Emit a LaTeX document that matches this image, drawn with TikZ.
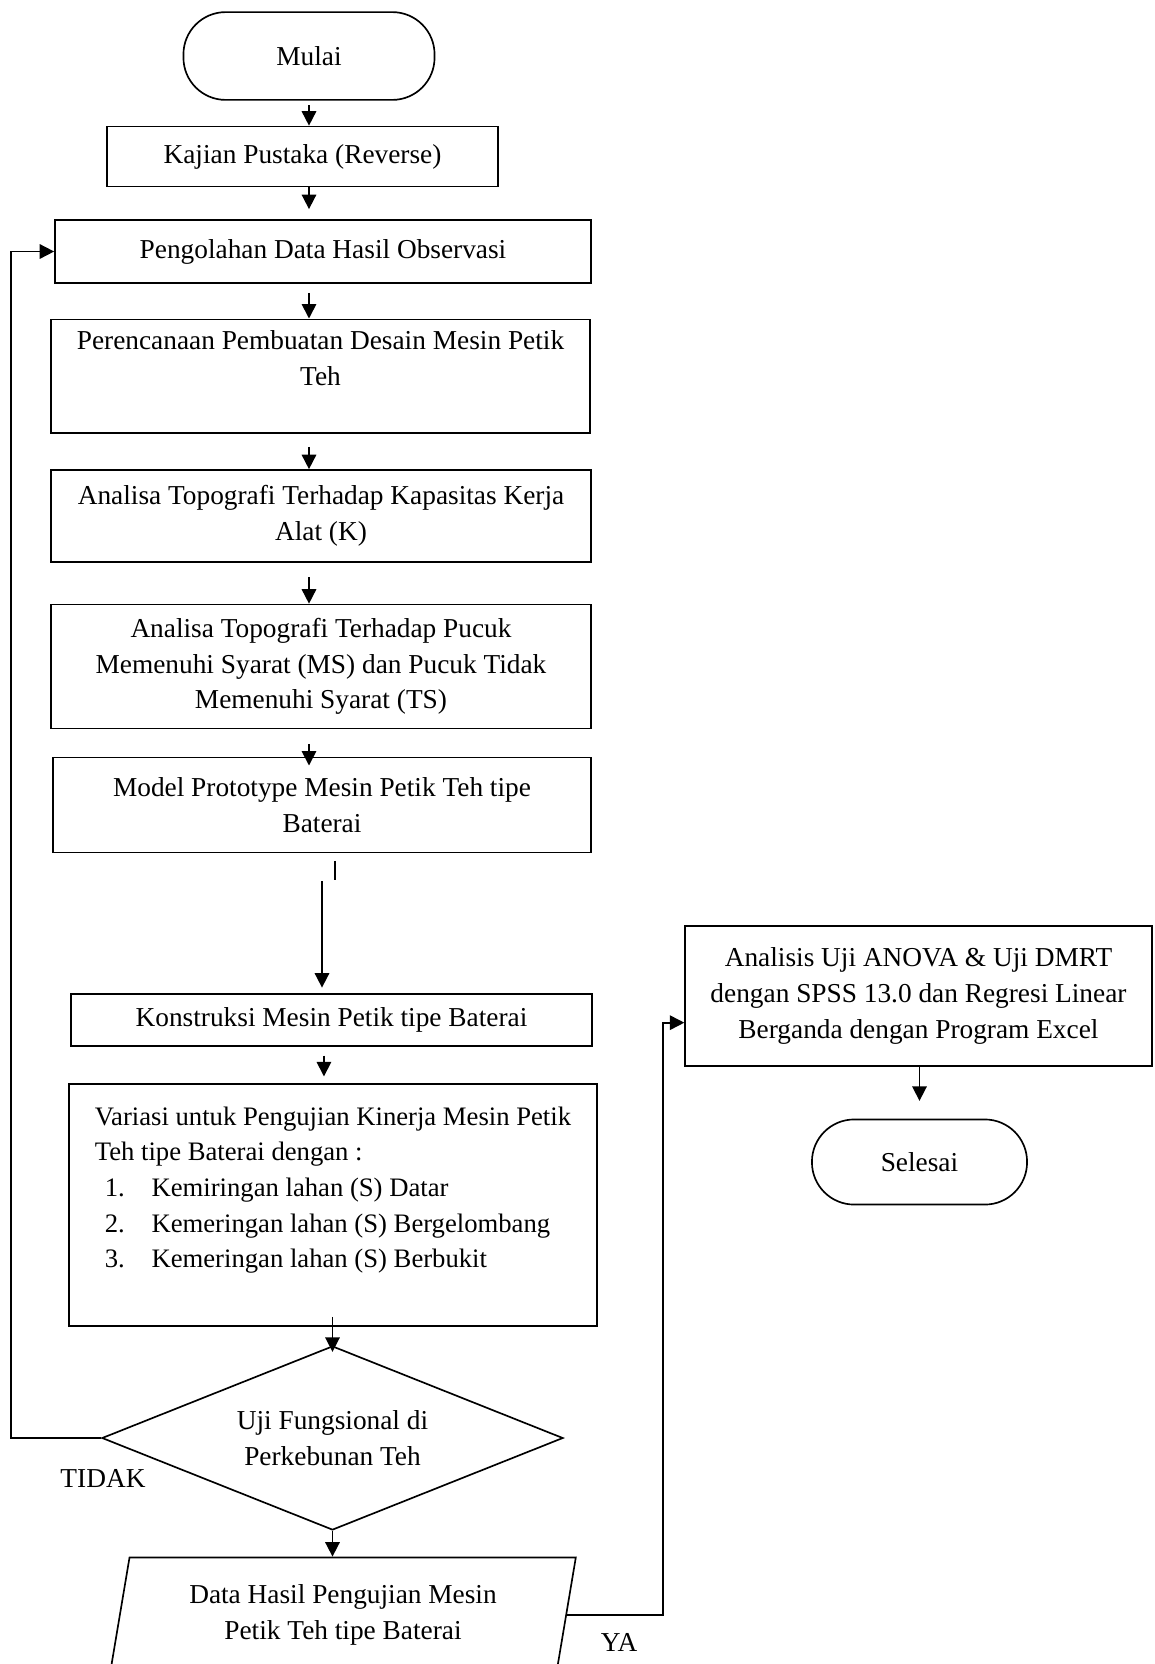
\documentclass[tikz,border=0pt]{standalone}
\usepackage{fontspec}
\setmainfont{Liberation Serif}
\usepackage{tikz}
\usetikzlibrary{arrows.meta,positioning,calc,shapes.geometric}
\newcommand{\butir}[1]{\hspace*{4.5pt}\makebox[21pt][l]{#1}}

\begin{document}
\begin{tikzpicture}[x=0.45pt,y=-0.45pt, box/.style={draw,line width=0.75pt,align=center,inner sep=0pt,font=\fontsize{12.3}{16}\selectfont}, ujung/.style={box,rounded corners=19pt}, pilih/.style={box,diamond,aspect=2.5}, masukan/.style={box,trapezium,trapezium left angle=77,trapezium right angle=103,trapezium stretches=true}, panah/.style={line width=0.75pt,-{Triangle[width=6.5pt,length=6.5pt]}}, label/.style={font=\fontsize{12.3}{16}\selectfont,inner sep=0pt}]
\useasboundingbox (0,0) rectangle (1154,1664);
\clip (0,0) rectangle (1154,1664);
\node[ujung,minimum width=113pt,minimum height=39.5pt] (mulai) at (309,56) {Mulai};
\node[box,minimum width=176pt,minimum height=27pt] (kajian) at (302.5,156.5) {Kajian Pustaka (Reverse)};
\node[box,minimum width=241.2pt,minimum height=28.4pt] (olah) at (323,251.5) {Pengolahan Data Hasil Observasi};
\node[box,minimum width=242.5pt,minimum height=51pt] (rencana) at (320.5,376) {Perencanaan Pembuatan Desain Mesin Petik\\Teh\\\mbox{}};
\node[box,minimum width=243pt,minimum height=41.4pt] (kapasitas) at (321,516) {Analisa Topografi Terhadap Kapasitas Kerja\\Alat (K)};
\node[box,minimum width=243pt,minimum height=55.8pt] (pucuk) at (321,666.5) {Analisa Topografi Terhadap Pucuk\\Memenuhi Syarat (MS) dan Pucuk Tidak\\Memenuhi Syarat (TS)};
\node[box,minimum width=242pt,minimum height=42.8pt] (model) at (322,805) {Model Prototype Mesin Petik Teh tipe\\Baterai};
\node[box,minimum width=234.5pt,minimum height=23.4pt] (konstruksi) at (331.5,1020) {Konstruksi Mesin Petik tipe Baterai};
\node[box,align=left,font=\fontsize{12}{16}\selectfont,minimum width=237.6pt,minimum height=109pt] (variasi) at (333,1205) {Variasi untuk Pengujian Kinerja Mesin Petik\\Teh tipe Baterai dengan :\\\butir{1.}Kemiringan lahan (S) Datar\\\butir{2.}Kemeringan lahan (S) Bergelombang\\\butir{3.}Kemeringan lahan (S) Berbukit\\\mbox{}};
\node[pilih,minimum width=207.5pt,minimum height=82.8pt] (uji) at (332.5,1438) {Uji Fungsional di\\Perkebunan Teh};
\node[masukan,minimum width=209.7pt,minimum height=51.8pt] (hasil) at (343,1615) {Data Hasil Pengujian Mesin\\Petik Teh tipe Baterai};
\node[box,minimum width=210pt,minimum height=63pt] (analisis) at (918.5,996) {Analisis Uji ANOVA \& Uji DMRT\\dengan SPSS 13.0 dan Regresi Linear\\Berganda dengan Program Excel};
\node[ujung,minimum width=96.8pt,minimum height=38.3pt] (selesai) at (919.5,1162) {Selesai};
\node[label] (tidak) at (103,1478) {TIDAK};
\node[label] (ya) at (619,1642) {YA};
\draw[panah,shorten <=2pt] (mulai.south) -- (mulai.south |- kajian.north);
\draw[panah,shorten >=4.5pt] (kajian.south -| mulai) -- (olah.north -| mulai);
\draw[panah,shorten <=4pt] (olah.south -| mulai) -- (rencana.north -| mulai);
\draw[panah,shorten <=6pt] (rencana.south -| mulai) -- (kapasitas.north -| mulai);
\draw[panah,shorten <=6.5pt] (kapasitas.south -| mulai) -- (pucuk.north -| mulai);
\draw[panah,shorten <=6.5pt,shorten >=-4pt] (pucuk.south -| mulai) -- (model.north -| mulai);
\draw[line width=0.75pt] ([xshift=5.8pt,yshift=-3.4pt]model.south) -- ++(0,19);
\draw[panah,shorten <=12.6pt,shorten >=2.5pt] (model.south) -- (model.south |- konstruksi.north);
\draw[panah,shorten <=4pt,shorten >=3pt] ([xshift=-3.4pt]konstruksi.south) -- ([xshift=-3.4pt]konstruksi.south |- variasi.north);
\draw[panah,shorten <=-4.5pt,shorten >=-3pt] (variasi.south -| uji) -- (uji.north);
\draw[panah] (uji.south) -- (uji.south |- hasil.north);
\draw[panah] (uji.west) -- ++(-90,0) |- (olah.west);
\draw[panah] (hasil.east) -- ++(96,0) |- ([yshift=-12pt]analisis.west);
\draw[panah,shorten >=8pt] (analisis.south -| selesai) -- (selesai.north);
\end{tikzpicture}
\end{document}
